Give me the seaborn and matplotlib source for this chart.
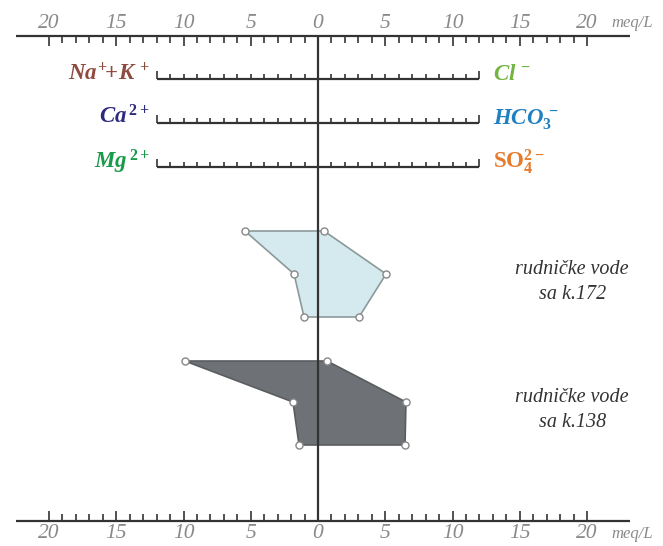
import matplotlib
matplotlib.use("Agg")
import matplotlib.pyplot as plt
import seaborn as sns
import numpy as np
import pandas as pd

sns.set_style("white")
plt.rcParams['font.family'] = ['Liberation Serif', 'DejaVu Serif']
plt.rcParams['mathtext.fontset'] = 'custom'
plt.rcParams['mathtext.it'] = 'Liberation Serif:italic:bold'
plt.rcParams['mathtext.rm'] = 'Liberation Serif:bold'
plt.rcParams['mathtext.bf'] = 'Liberation Serif:bold'

# ---- data (meq/L) ----
cation_labels = [r'$Na^{+}\!\!+\!K^{\,+}$', r'$Ca^{\,2+}$', r'$Mg^{\,2+}$']
anion_labels = [r'$Cl^{\,-}$', r'$HCO_3^{\,-}$', r'$\mathrm{SO}_4^{2-}$']
cation_colors = ['#8E4B3F', '#2E2A7E', '#1A9A4B']
anion_colors = ['#74B443', '#1F80C2', '#E57B2C']

sample_names = ['rudničke vode\nsa k.172', 'rudničke vode\nsa k.138']
k172_cations = [5.43, 1.78, 1.04]   # Na+K, Ca, Mg
k172_anions = [0.45, 5.06, 3.05]    # Cl, HCO3, SO4
k138_cations = [9.9, 1.86, 1.41]
k138_anions = [0.67, 6.54, 6.47]

scale_ticks = [20, 15, 10, 5, 0, 5, 10, 15, 20]
scale_pos = [-20, -15, -10, -5, 0, 5, 10, 15, 20]

# layout (pixel rows, y grows downward)
px = 13.45          # pixels per meq/L
x0 = 318
top_y, bot_y = 36, 521
ion_rows = [79, 123, 167]
sample_rows = [[231, 274, 317], [361, 402, 445]]
fills = ['#D5EAEE', '#6E7175']
edges = ['#8C9999', '#5A5D60']

fig = plt.figure(figsize=(6.63, 5.46), dpi=100)
ax = fig.add_axes([0, 0, 1, 1])
ax.set_xlim(-x0 / px, (663 - x0) / px)
ax.set_ylim(546, 0)
ax.axis('off')

line_c = '#333333'
lab_c = '#8A8A8A'

# main scales top and bottom
units = np.arange(-20, 21)
for y, sgn in [(top_y, 1), (bot_y, -1)]:
    ax.hlines(y, (16 - x0) / px, (630 - x0) / px, color=line_c, lw=1.6)
    for u in units:
        ln = 10 if u % 5 == 0 else 7
        ax.vlines(u, y, y + sgn * ln, color=line_c, lw=1.2)
    for p, t in zip(scale_pos, scale_ticks):
        ax.text(p, y - sgn * 13, str(t), ha='center', va='center',
                fontsize=15.5, style='italic', color=lab_c)
    ax.text(21.8, y - sgn * 13, 'meq/L', ha='left', va='center',
            fontsize=12, style='italic', color=lab_c)

# center line
ax.vlines(0, top_y, bot_y, color=line_c, lw=1.6, zorder=5)

# ion scales
ion_units = np.arange(-12, 13)
for i, y in enumerate(ion_rows):
    ax.hlines(y, -12, 12, color=line_c, lw=1.6)
    for u in ion_units:
        ln = 8 if abs(u) == 12 else 5
        ax.vlines(u, y, y - ln, color=line_c, lw=1.2)
    ax.text(-12.5, y + 1, cation_labels[i], ha='right', va='baseline',
            fontsize=16.5, color=cation_colors[i])
    ax.text(13.0, y + 1, anion_labels[i], ha='left', va='baseline',
            fontsize=16.5, color=anion_colors[i])

# stiff polygons
samples = [(k172_cations, k172_anions), (k138_cations, k138_anions)]
for s, (cat, an) in enumerate(samples):
    rows = sample_rows[s]
    df = pd.DataFrame({
        'x': [-v for v in cat] + [v for v in an[::-1]],
        'y': rows + rows[::-1],
    })
    ax.fill(df['x'], df['y'], facecolor=fills[s], edgecolor=edges[s],
            lw=1.2, zorder=2)
    sns.scatterplot(data=df, x='x', y='y', ax=ax, s=26, color='white',
                    edgecolor='#888888', linewidth=1.0, zorder=6)
    ax.text(18.9, rows[1] + 8, sample_names[s], ha='center',
            va='center', fontsize=14.5, style='italic', color='#333333',
            linespacing=1.4)

ax.set_xlabel('')
ax.set_ylabel('')
fig.savefig('out.png', dpi=100)
